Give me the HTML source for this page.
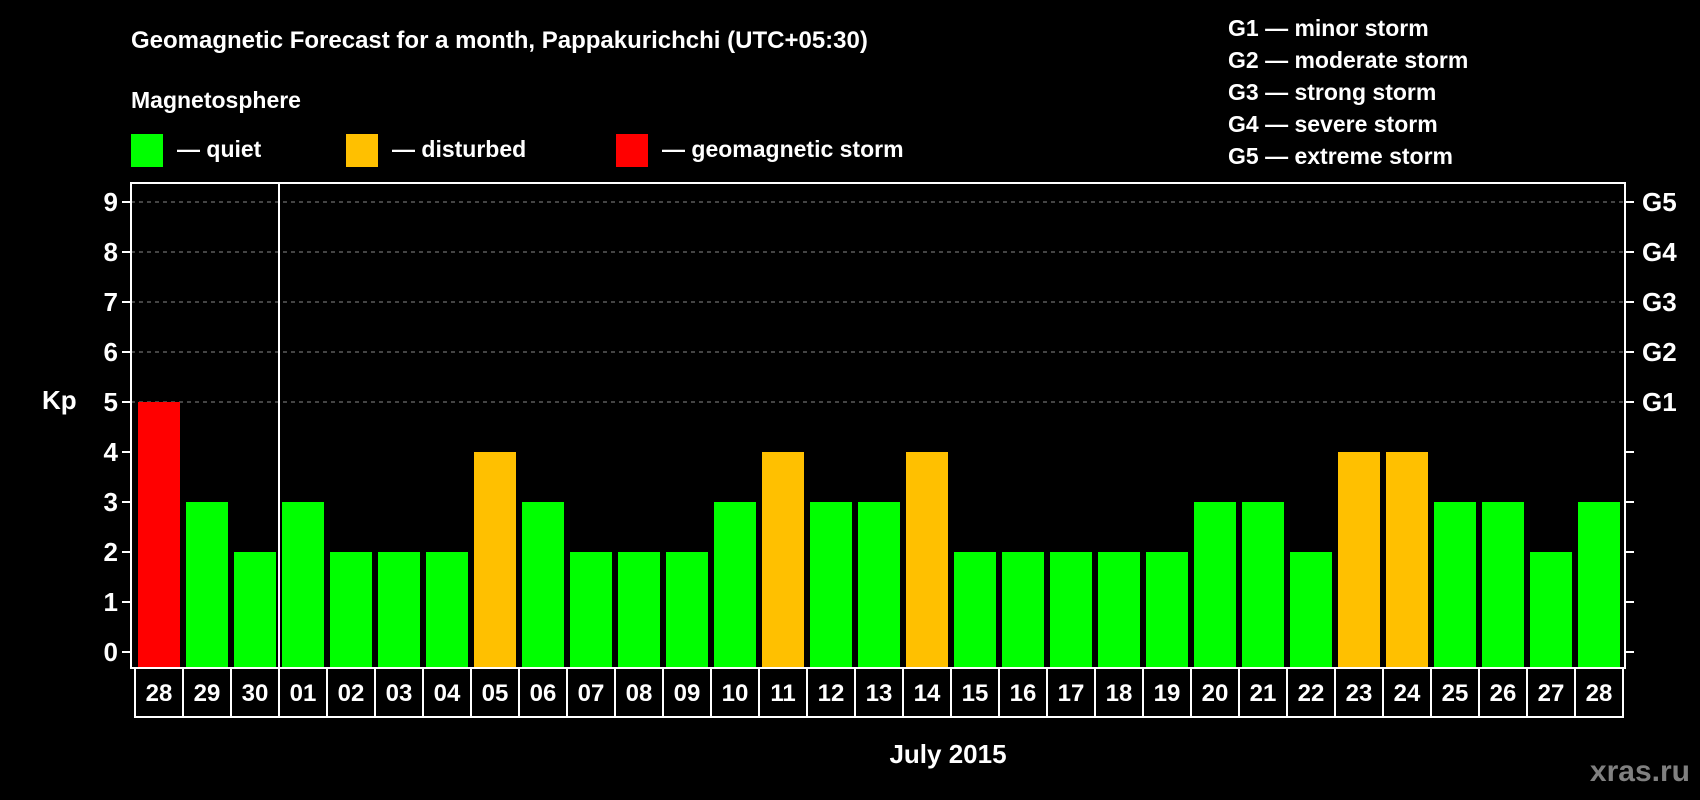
<!DOCTYPE html>
<html><head><meta charset="utf-8"><style>
html,body{margin:0;padding:0;background:#000;}
svg{display:block;font-family:"Liberation Sans",sans-serif;font-weight:bold;}
</style></head><body>
<svg id="chart" width="1700" height="800" xmlns="http://www.w3.org/2000/svg">
<text x="131" y="48" fill="#fff" font-size="24">Geomagnetic Forecast for a month, Pappakurichchi (UTC+05:30)</text>
<text x="131" y="108" fill="#fff" font-size="23">Magnetosphere</text>
<g><rect x="131" y="134" width="32" height="33" fill="#00ff00"/><text x="177" y="157" fill="#fff" font-size="23">— quiet</text></g>
<g><rect x="346" y="134" width="32" height="33" fill="#ffc000"/><text x="392" y="157" fill="#fff" font-size="23">— disturbed</text></g>
<g><rect x="616" y="134" width="32" height="33" fill="#ff0000"/><text x="662" y="157" fill="#fff" font-size="23">— geomagnetic storm</text></g>
<g fill="#fff" font-size="23">
<text x="1228" y="36">G1 — minor storm</text>
<text x="1228" y="68">G2 — moderate storm</text>
<text x="1228" y="100">G3 — strong storm</text>
<text x="1228" y="132">G4 — severe storm</text>
<text x="1228" y="164">G5 — extreme storm</text>
</g>
<text x="42" y="409" fill="#fff" font-size="26">Kp</text>
<text x="948" y="763" fill="#fff" font-size="26" text-anchor="middle">July 2015</text>
<text x="1690" y="781" fill="#808080" font-size="30" text-anchor="end">xras.ru</text>
<g id="grid"></g><g id="bars"></g><g id="axes"></g>
</svg>
<script>
const days=["28","29","30","01","02","03","04","05","06","07","08","09","10","11","12","13","14","15","16","17","18","19","20","21","22","23","24","25","26","27","28"];
const kp=[5,3,2,3,2,2,2,4,3,2,2,2,3,4,3,3,4,2,2,2,2,2,3,3,2,4,4,3,3,2,3];
const yTicks=[0,1,2,3,4,5,6,7,8,9];
const gLabels=["G1","G2","G3","G4","G5"];
const NS="http://www.w3.org/2000/svg";
const L=131,R=1625,T=183,B=668;
const y=v=>652-v*50;
const x=i=>138+48*i;
function mk(t,a,p){const e=document.createElementNS(NS,t);for(const k in a)e.setAttribute(k,a[k]);p.appendChild(e);return e;}
const grid=document.getElementById('grid'),bars=document.getElementById('bars'),axes=document.getElementById('axes');
yTicks.forEach(v=>{
 if(v>=5){const g=mk('line',{x1:L,x2:R,y1:y(v),y2:y(v),stroke:'#888','stroke-dasharray':'4,4','stroke-width':1},grid);
 
 }
 mk('line',{x1:L-9,x2:L,y1:y(v),y2:y(v),stroke:'#fff','stroke-width':2},axes);
 mk('line',{x1:R,x2:R+9,y1:y(v),y2:y(v),stroke:'#fff','stroke-width':2},axes);
 const t=mk('text',{x:118,y:y(v)+9,fill:'#fff','font-size':26,'text-anchor':'end'},axes);t.textContent=v;
 
 
});
gLabels.forEach((g,i)=>{const t=mk('text',{x:1642,y:y(5+i)+9,fill:'#fff','font-size':26},axes);t.textContent=g;
 
 });
kp.forEach((v,i)=>{
 const c=v>=5?'#ff0000':(v==4?'#ffc000':'#00ff00');
 const r=mk('rect',{x:x(i),y:y(v),width:42,height:B-y(v),fill:c},bars);
 
 
 mk('rect',{x:x(i)-3,y:B,width:48,height:49,fill:'none',stroke:'#fff','stroke-width':2},axes);
 const t=mk('text',{x:x(i)+21,y:B+33,fill:'#fff','font-size':24,'text-anchor':'middle'},axes);t.textContent=days[i];
 
 
});
const fr=mk('rect',{x:L,y:T,width:R-L,height:B-T,fill:'none',stroke:'#fff','stroke-width':2},axes);


const dv=mk('line',{x1:279,x2:279,y1:T,y2:B,stroke:'#fff','stroke-width':2},axes);


</script>
</body></html>
